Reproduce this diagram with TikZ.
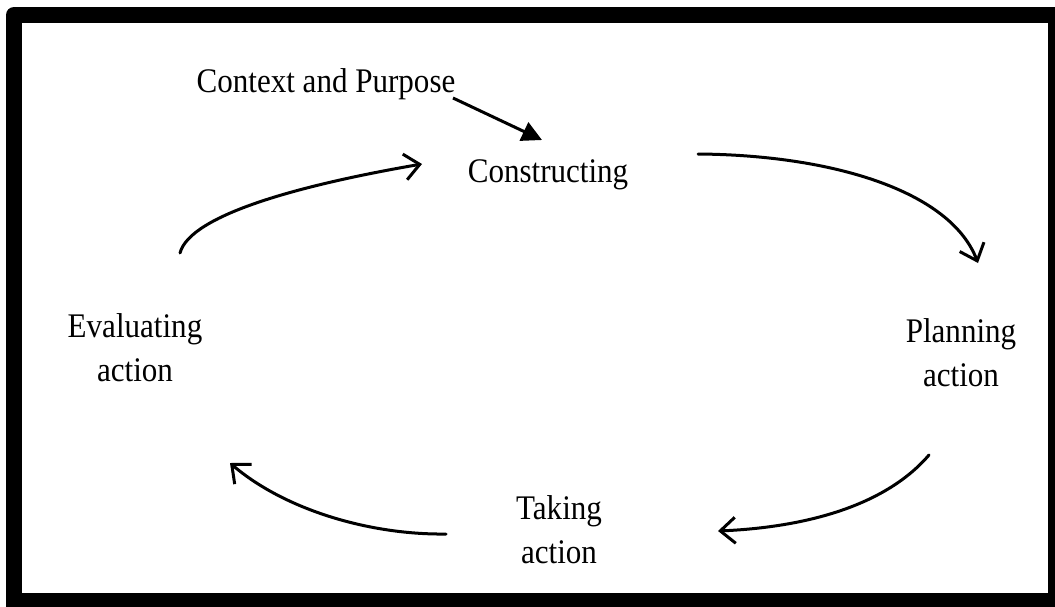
\documentclass[tikz,border=0pt]{standalone}
\usepackage{fontspec}
\setmainfont{Liberation Serif}[FakeStretch=0.9]
\usetikzlibrary{arrows.meta}
\begin{document}
\begin{tikzpicture}[x=1pt,y=-1pt,
  lbl/.style={inner sep=0pt, align=center, anchor=base, font=\fontsize{34.5}{44}\selectfont},
  cyc/.style={line width=3pt, line cap=round, -{Straight Barb[length=15pt,width=26pt,line width=3pt]}},
  ctx/.style={line width=3pt, -{Triangle[length=20pt,width=20pt]}}]
\useasboundingbox (0,0) rectangle (1055,606);
\fill[white] (0,0) rectangle (1055,606);
\fill[black, rounded corners=8pt] (6,7) rectangle (1080,630);
\fill[white] (22,23) rectangle (1048,593);
% labels
\node[lbl] (context) at (326,92) {Context and Purpose};
\node[lbl] (constr) at (548,182) {Constructing};
\node[lbl] (plan) at (961,386) {Planning\\action};
\node[lbl] (take) at (559,563) {Taking\\action};
\node[lbl] (eval) at (135,381) {Evaluating\\action};
% connector ends
\coordinate (c1) at (453,98);
\coordinate (c2) at (542,140);
\coordinate (a1) at (698,154);
\coordinate (a2) at (978,263);
\coordinate (b1) at (929,455);
\coordinate (b2) at (718,531);
\coordinate (d1) at (446,534);
\coordinate (d2) at (230,463);
\coordinate (e1) at (180,253);
\coordinate (e2) at (422,164);
% connectors
\draw[ctx] (c1) -- (c2);
\draw[cyc] (a1) .. controls (830,155) and (950,190) .. (a2);
\draw[cyc] (b1) .. controls (880,512) and (790,528) .. (b2);
\draw[cyc] (d1) .. controls (370,535) and (285,510) .. (d2);
\draw[cyc] (e1) .. controls (190,215) and (300,185) .. (e2);
\end{tikzpicture}
\end{document}
